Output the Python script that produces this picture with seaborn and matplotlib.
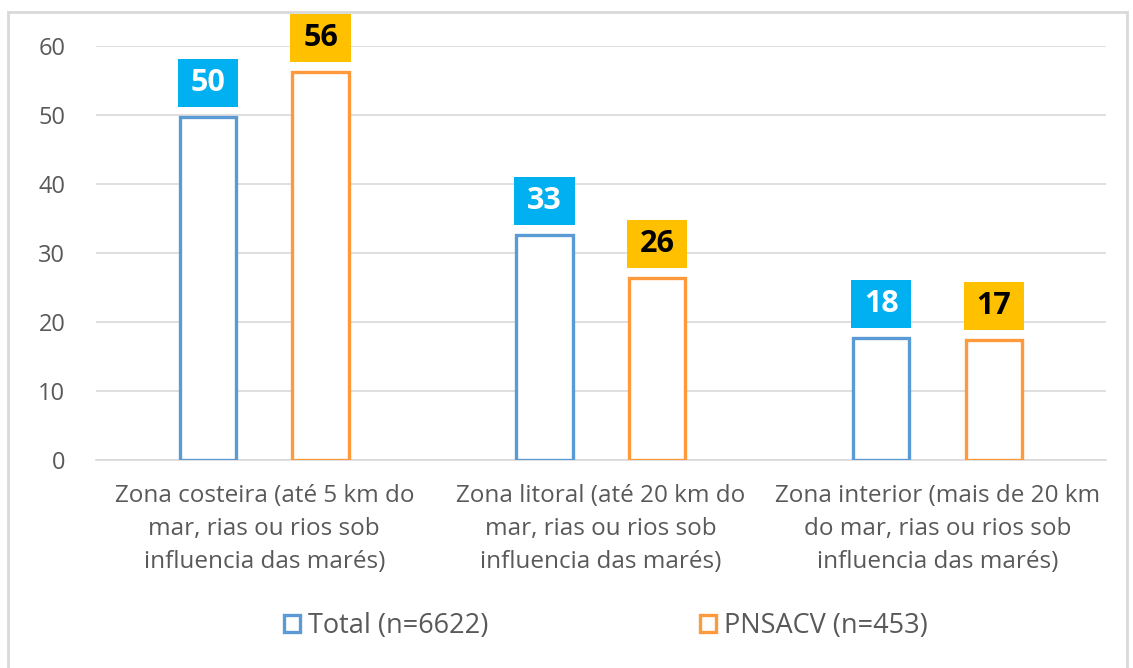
import pandas as pd
import seaborn as sns
from matplotlib import pyplot as plt
from matplotlib.patches import Patch, Rectangle

# Chart data
categories = ['Zona costeira (até 5 km do\nmar, rias ou rios sob\ninfluencia das marés)',
              'Zona litoral (até 20 km do\nmar, rias ou rios sob\ninfluencia das marés)',
              'Zona interior (mais de 20 km\ndo mar, rias ou rios sob\ninfluencia das marés)']
series = ['Total (n=6622)', 'PNSACV (n=453)']
total_values = [49.7, 32.6, 17.7]
pnsacv_values = [56.2, 26.4, 17.4]
y_ticks = [0, 10, 20, 30, 40, 50, 60]

edge_colors = ['#5B9BD5', '#FF9A3C']
box_colors = ['#00B0F0', '#FFC000']
text_colors = ['white', 'black']

df = pd.DataFrame({
    'zona': categories * 2,
    'serie': [series[0]] * 3 + [series[1]] * 3,
    'valor': total_values + pnsacv_values,
})

sns.set_style('white')
plt.rcParams['font.family'] = ['Open Sans', 'DejaVu Sans']

fig = plt.figure(figsize=(11.33, 6.68), dpi=100)
ax = fig.add_axes([0.0847, 0.3114, 0.976 - 0.0847, 0.931 - 0.3114])

sns.barplot(data=df, x='zona', y='valor', hue='serie', hue_order=series,
            width=0.67, gap=0.5, fill=False, linewidth=2.4,
            palette=edge_colors, legend=False, ax=ax, zorder=3)

# white face inside the outlined bars
for container in ax.containers:
    for bar in container:
        bar.set_facecolor('white')
        bar.set_fill(True)

ax.set_ylim(0, 60)
ax.set_xlim(-0.5, 2.5)
ax.set_yticks(y_ticks)
ax.yaxis.grid(True, color='#D9D9D9', linewidth=1.2, zorder=0)
ax.set_axisbelow(True)
ax.set_xlabel('')
ax.set_ylabel('')
for side in ['top', 'right', 'left']:
    ax.spines[side].set_visible(False)
ax.spines['bottom'].set_color('#D9D9D9')
ax.spines['bottom'].set_linewidth(1.2)
ax.tick_params(axis='y', length=0, pad=22, labelsize=17, labelcolor='#595959')
ax.tick_params(axis='x', which='major', length=0, pad=17, labelsize=17.5, labelcolor='#595959')
ax.set_xticks([-0.5, 0.5, 1.5, 2.5], minor=True)
ax.tick_params(axis='x', which='minor', length=8, color='#D9D9D9', width=1.2)
for lab in ax.get_xticklabels():
    lab.set_linespacing(1.52)

# value boxes above each bar
px_x = (2.5 - -0.5) / (ax.get_position().width * fig.get_figwidth() * fig.dpi)
px_y = 60 / (ax.get_position().height * fig.get_figheight() * fig.dpi)
for i, container in enumerate(ax.containers):
    for bar in container:
        h = bar.get_height()
        bx = bar.get_x() - 2 * px_x
        bw = bar.get_width() + 4 * px_x
        by = h + 10 * px_y
        bh = 48 * px_y
        ax.add_patch(Rectangle((bx, by), bw, bh, facecolor=box_colors[i],
                               edgecolor='none', zorder=4, clip_on=False))
        ax.text(bx + bw / 2, by + bh / 2, f'{round(h):d}', ha='center', va='center',
                fontsize=22, fontweight='bold', color=text_colors[i], zorder=5)

# legend
handles = [Patch(facecolor='white', edgecolor=c, linewidth=2.4) for c in edge_colors]
fig.legend(handles, series, loc='center', bbox_to_anchor=(0.535, 0.063), ncol=2,
           frameon=False, fontsize=19.5, labelcolor='#595959', columnspacing=7.8,
           handlelength=0.6, handleheight=0.6, handletextpad=0.3)

# outer chart frame
fig.patches.append(Rectangle((8 / 1133, -0.05), (1127 - 8) / 1133, 1 - 12 / 668 + 0.05,
                             transform=fig.transFigure, fill=False,
                             edgecolor='#D9D9D9', linewidth=2))

plt.savefig('out.png', dpi=100)
